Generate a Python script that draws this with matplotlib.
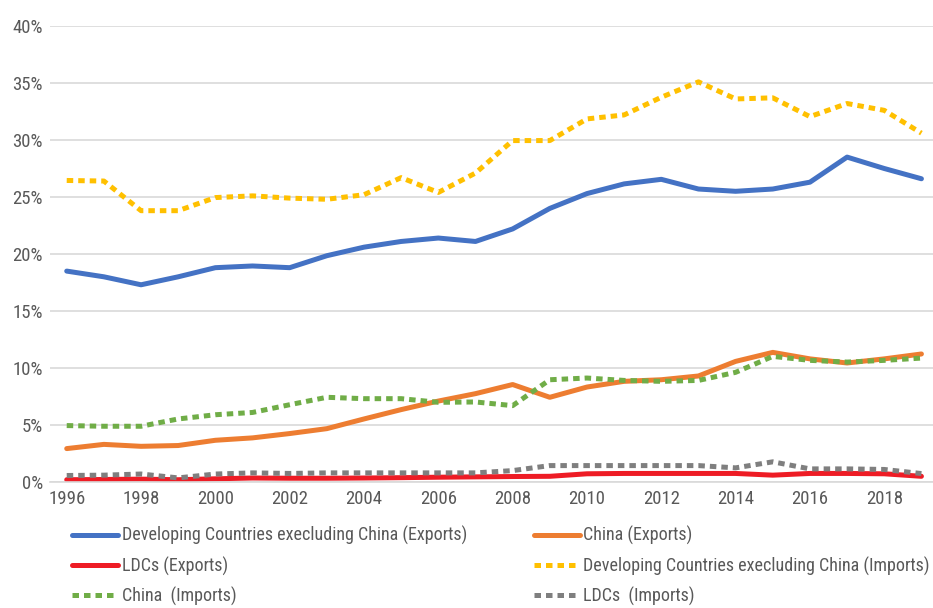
import matplotlib
matplotlib.use('Agg')
import matplotlib.pyplot as plt
from matplotlib.ticker import PercentFormatter
import numpy as np

plt.rcParams['font.family'] = ['Roboto Condensed', 'DejaVu Sans']

# Years on the category axis
years = list(range(1996, 2020))

# Shares in percent
dev_exports = [18.5, 18.0, 17.3, 18.0, 18.8, 18.95, 18.8, 19.85, 20.6, 21.1, 21.4, 21.1,
               22.2, 24.0, 25.3, 26.15, 26.55, 25.7, 25.5, 25.7, 26.3, 28.5, 27.5, 26.6]
china_exports = [2.93, 3.3, 3.13, 3.2, 3.66, 3.87, 4.25, 4.68, 5.53, 6.35, 7.1, 7.75,
                 8.55, 7.43, 8.33, 8.83, 8.97, 9.3, 10.58, 11.37, 10.8, 10.44, 10.8, 11.23]
ldc_exports = [0.2, 0.22, 0.25, 0.2, 0.28, 0.35, 0.33, 0.33, 0.35, 0.38, 0.42, 0.45,
               0.48, 0.5, 0.72, 0.75, 0.75, 0.75, 0.75, 0.6, 0.75, 0.75, 0.72, 0.5]
dev_imports = [26.45, 26.4, 23.8, 23.8, 24.95, 25.1, 24.9, 24.8, 25.2, 26.7, 25.4, 27.1,
               29.95, 29.95, 31.85, 32.2, 33.75, 35.1, 33.6, 33.7, 32.05, 33.2, 32.6, 30.6]
china_imports = [4.95, 4.89, 4.89, 5.53, 5.9, 6.1, 6.78, 7.43, 7.31, 7.31, 6.99, 7.02,
                 6.7, 8.97, 9.12, 8.91, 8.83, 8.91, 9.62, 11.02, 10.67, 10.52, 10.67, 10.87]
ldc_imports = [0.57, 0.6, 0.7, 0.36, 0.7, 0.8, 0.75, 0.8, 0.8, 0.8, 0.8, 0.8,
               1.0, 1.44, 1.44, 1.44, 1.44, 1.44, 1.24, 1.77, 1.15, 1.15, 1.1, 0.74]

fig = plt.figure(figsize=(9.33, 6.08), dpi=100)
ax = fig.add_axes([50 / 933, 1 - 482 / 608, 890 / 933, 456 / 608])

lw = 3.6
dot = (0, (1.3, 1.0))
hDevExp, = ax.plot(years, dev_exports, color='#4472C4', lw=lw, solid_capstyle='round',
                   label='Developing Countries execluding China (Exports)')
hChinaExp, = ax.plot(years, china_exports, color='#ED7D31', lw=lw, solid_capstyle='round',
                     label='China (Exports)')
hLdcExp, = ax.plot(years, ldc_exports, color='#EE1C25', lw=lw, solid_capstyle='round',
                   label='LDCs (Exports)')
hDevImp, = ax.plot(years, dev_imports, color='#FFC000', lw=lw, linestyle=dot,
                   dash_capstyle='butt',
                   label='Developing Countries execluding China (Imports)')
hChinaImp, = ax.plot(years, china_imports, color='#70AD47', lw=lw, linestyle=dot,
                     dash_capstyle='butt', label='China  (Imports)')
hLdcImp, = ax.plot(years, ldc_imports, color='#7F7F7F', lw=lw, linestyle=dot,
                   dash_capstyle='butt', label='LDCs  (Imports)')

ax.set_xlim(1995.55, 2019.5)
ax.set_ylim(0, 40)
ax.set_yticks(np.arange(0, 41, 5))
ax.yaxis.set_major_formatter(PercentFormatter(decimals=0))
ax.set_xticks(years[::2])
ax.grid(axis='y', color='#D9D9D9', lw=1.2)
ax.set_axisbelow(True)
for s in ['top', 'right', 'left']:
    ax.spines[s].set_visible(False)
ax.spines['bottom'].set_color('#D9D9D9')
ax.spines['bottom'].set_linewidth(1.2)
ax.tick_params(axis='both', length=0, labelsize=13.5, labelcolor='#595959')
ax.tick_params(axis='y', pad=5)
ax.tick_params(axis='x', pad=6)

handles = [hDevExp, hLdcExp, hChinaImp, hChinaExp, hDevImp, hLdcImp]
fig.legend(handles=handles, labels=[h.get_label() for h in handles],
           loc='upper left', bbox_to_anchor=(72 / 933, 1 - 526 / 608), ncol=2,
           frameon=False, fontsize=13, labelcolor='#595959',
           borderpad=0, borderaxespad=0,
           handlelength=2.55, handletextpad=0.2, columnspacing=3.7,
           labelspacing=0.62)

fig.savefig('out.png', dpi=100)
